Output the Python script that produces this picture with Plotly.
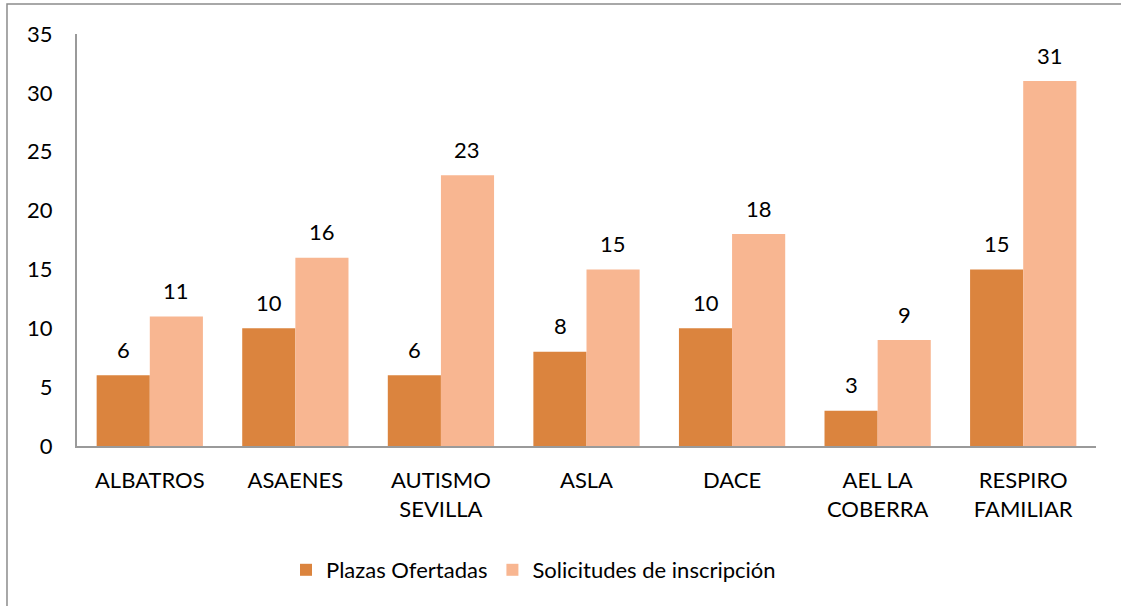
import plotly.graph_objects as go

categories = ["ALBATROS", "ASAENES", "AUTISMO<br>SEVILLA", "ASLA", "DACE", "AEL LA<br>COBERRA", "RESPIRO<br>FAMILIAR"]
plazas = [6, 10, 6, 8, 10, 3, 15]
solicitudes = [11, 16, 23, 15, 18, 9, 31]
series_names = ["Plazas Ofertadas", "Solicitudes de inscripción"]
y_ticks = [0, 5, 10, 15, 20, 25, 30, 35]

FONT = "Lato"
FS = 22

fig = go.Figure()
fig.add_trace(go.Bar(x=categories, y=plazas, name=series_names[0],
                     marker=dict(color="#DB843E", line=dict(width=0))))
fig.add_trace(go.Bar(x=categories, y=solicitudes, name=series_names[1],
                     marker=dict(color="#F8B691", line=dict(width=0))))

# value labels above each bar
for series, dx in ((plazas, -26.5), (solicitudes, 26.5)):
    for cat, val in zip(categories, series):
        fig.add_annotation(x=cat, y=val, text=str(val), showarrow=False,
                           xshift=dx, yshift=26, yanchor="middle",
                           font=dict(size=FS, family=FONT, color="black"))

fig.update_layout(
    width=1121, height=606,
    margin=dict(l=77, r=25, t=34, b=160),
    plot_bgcolor="white", paper_bgcolor="white",
    barmode="group", bargap=0.27, bargroupgap=0,
    font=dict(family=FONT, size=FS, color="black"),
    showlegend=True,
    legend=dict(orientation="h", x=0.448, xanchor="center", y=-0.25, yanchor="top",
                font=dict(size=FS, family=FONT, color="black"),
                traceorder="normal"),
)
fig.update_yaxes(range=[0, 35], tickvals=y_ticks, showgrid=False, zeroline=False,
                 showline=True, linecolor="#9a9a9a", linewidth=2,
                 ticks="", ticklabelstandoff=18,
                 tickfont=dict(size=FS, family=FONT, color="black"))
fig.update_xaxes(showgrid=False, showline=True, linecolor="#9a9a9a", linewidth=2,
                 ticks="", ticklabelstandoff=14,
                 tickfont=dict(size=FS, family=FONT, color="black"))
fig.add_shape(type="rect", xref="paper", yref="paper",
              x0=-0.0687, x1=1.2, y0=-0.6, y1=1.0728,
              line=dict(color="#8c8c8c", width=1.5), fillcolor="rgba(0,0,0,0)", layer="below")

fig.write_html("out.html", config={"displayModeBar": False},
               post_script="document.body.style.margin='0px';")
